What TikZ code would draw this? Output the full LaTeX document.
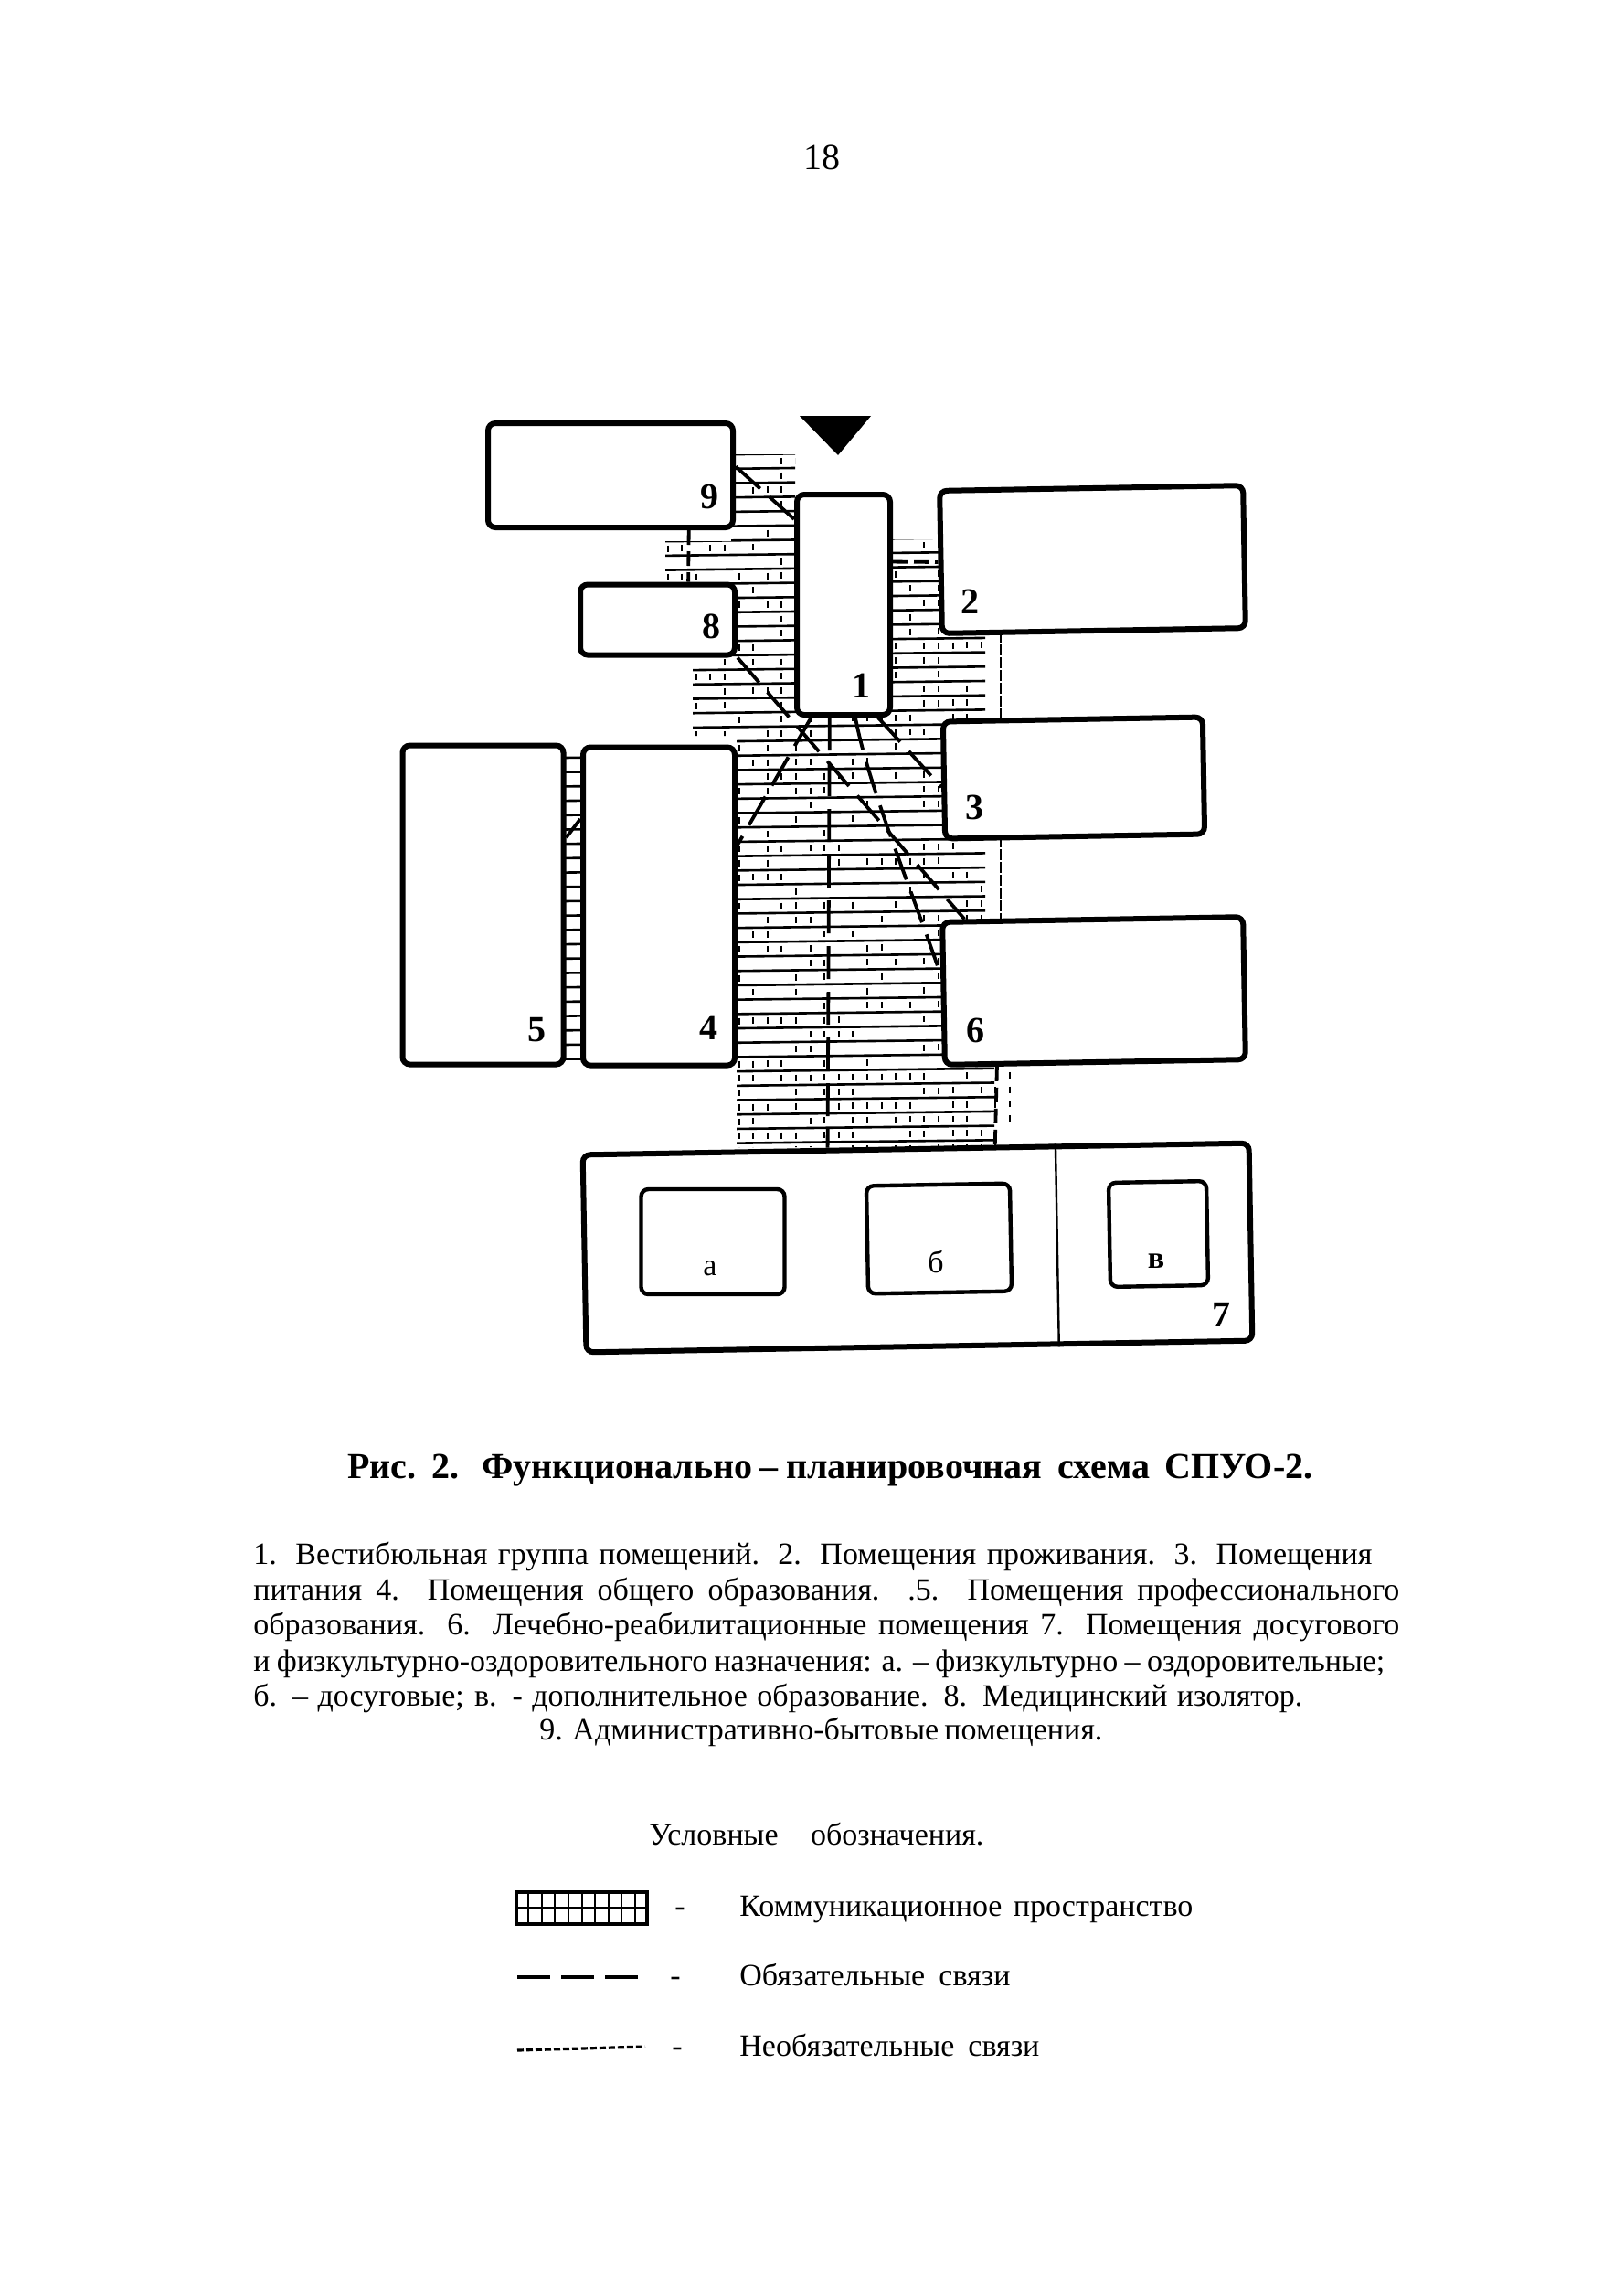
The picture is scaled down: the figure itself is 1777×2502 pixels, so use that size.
\documentclass[tikz,border=0pt]{standalone}
\usepackage{fontspec}
\setmainfont{Liberation Serif}
\usetikzlibrary{calc,backgrounds}
\newcommand{\fitline}[2]{\makebox[#1][s]{#2}}
\tikzset{
 room/.style={draw=black,fill=white,line width=3pt,rounded corners=4pt,inner sep=0pt,rectangle},
 subroom/.style={draw=black,fill=white,line width=2.2pt,rounded corners=4pt,inner sep=0pt,rectangle},
 numlabel/.style={font=\fontsize{20}{22}\selectfont\bfseries,inner sep=0pt},
 letlabel/.style={font=\fontsize{17}{20}\selectfont,inner sep=0pt},
 txt/.style={anchor=base west,inner sep=0pt,font=\fontsize{17}{20}\selectfont},
 captxt/.style={anchor=base west,inner sep=0pt,font=\fontsize{20}{24}\selectfont\bfseries},
 hrow/.style={line width=1.3pt,black},
 vtick/.style={line width=1pt,black},
 conn/.style={line width=1.9pt,black,dash pattern=on 18pt off 7pt},
 connshort/.style={line width=1.9pt,black,dash pattern=on 8pt off 3.5pt},
 legendthin/.style={line width=1.6pt,black,dash pattern=on 3.5pt off 1.5pt},
 legendthick/.style={line width=2.4pt,black,dash pattern=on 18pt off 6pt},
 edgeline/.style={line width=1pt,black,dash pattern=on 6pt off 1pt},
}
\begin{document}
\begin{tikzpicture}[x=0.5pt,y=-0.5pt]
\useasboundingbox (0,0) rectangle (1777,2502);
% rooms
\node[room,minimum width=134pt,minimum height=57pt] (n9) at (668,520) {};
\node[room,minimum width=51pt,minimum height=120.5pt] (n1) at (923,661.5) {};
\node[room,minimum width=166pt,minimum height=78pt,rotate=1] (n2) at (1195.5,612) {};
\node[room,minimum width=84.5pt,minimum height=38.5pt] (n8) at (719.5,678) {};
\node[room,minimum width=142pt,minimum height=64pt,rotate=1] (n3) at (1175,851) {};
\node[room,minimum width=83pt,minimum height=174pt] (n4) at (721,991.5) {};
\node[room,minimum width=88pt,minimum height=174.5pt] (n5) at (528.5,990) {};
\node[room,minimum width=164.5pt,minimum height=78pt,rotate=1] (n6) at (1197,1084) {};
\node[room,minimum width=364.5pt,minimum height=108pt,rotate=1] (n7) at (1004,1365) {};
\begin{pgfonlayer}{background}
% communication space
\begin{scope}
\clip (800,497) rectangle (870,600)
      (728,592) rectangle (880,640)
      (800,640) rectangle (880,720)
      (758,717) rectangle (880,805)
      (806,780) rectangle (1036,1255)
      (970,590) rectangle (1036,800)
      (970,691) rectangle (1078,790)
      (1030,912) rectangle (1078,1010)
      (806,1160) rectangle (1088,1255)
      (612,815) rectangle (642,1166);
\foreach \k in {0,...,49}{
  \pgfmathsetmacro\yy{497+15.7*\k}
  \draw[hrow] (600,{\yy+2.5}) -- (1120,{\yy-3.7});
}
\end{scope}
\begin{scope}
\clip (800,497) rectangle (870,600)
      (728,592) rectangle (880,640)
      (800,640) rectangle (880,720)
      (758,717) rectangle (880,805)
      (806,780) rectangle (1036,1255)
      (970,590) rectangle (1036,800)
      (970,691) rectangle (1078,790)
      (1030,912) rectangle (1078,1010)
      (806,1160) rectangle (1108,1255);
\pgfmathsetseed{11}
\foreach \k in {0,...,48}{
  \foreach \c in {-10,...,15}{
    \pgfmathrandominteger{\r}{0}{99}
    \pgfmathtruncatemacro\lim{\k>42 ? 70 : 38}
    \ifnum\r<\lim\relax
      \pgfmathsetmacro\xx{871+15.6*\c}
      \pgfmathsetmacro\yc{497+15.7*(\k+.5)-0.012*(\xx-810)}
      \draw[vtick] (\xx,\yc-3.5) -- (\xx,\yc+3.5);
    \fi
  }
}
\end{scope}
\draw[edgeline] (1095,691) -- (1095,786);
\draw[edgeline] (1095,915) -- (1095,1005);
% connectors
\draw[conn] (n9.4) -- (n1.120);
\draw[connshort] (n9.-35) -- (n8.51);
\draw[conn] (n8.south east) -- (n6.150);
\draw[conn] (n1.254) -- (n4.38);
\draw[line width=1.9pt] (n5.39) -- (n4.132);
\draw[conn] (n1.263) -- (n7.131);
\draw[conn] (n1.-73) -- (n3.183);
\draw[conn] (n1.-84) .. controls (950,860) and (1000,980) .. (n6.173);
\draw[connshort] (n1.41) -- (n2.west);
\draw[connshort] (n6.217) -- (n7.52);
\end{pgfonlayer}
\draw[line width=1.2pt] ($(n7.north west)!0.708!(n7.north east)$) -- ($(n7.south west)!0.708!(n7.south east)$);
\node[subroom,minimum width=78.5pt,minimum height=57.5pt] (na) at (780,1358.5) {};
\node[subroom,minimum width=78.5pt,minimum height=59pt,rotate=1] (nb) at (1027.5,1355) {};
\node[subroom,minimum width=53.5pt,minimum height=57pt,rotate=1] (nv) at (1267.5,1350) {};
% entrance
\fill (875,455) -- (953,455) -- (917,498) -- cycle;
% labels
\node[numlabel] (l9) at (776,543) {9};
\node[numlabel] (l8) at (778,685) {8};
\node[numlabel] (l1) at (942,750) {1};
\node[numlabel] (l2) at (1061,658) {2};
\node[numlabel] (l3) at (1066,883) {3};
\node[numlabel] (l5) at (587,1127) {5};
\node[numlabel] (l4) at (775,1124) {4};
\node[numlabel] (l6) at (1067,1127) {6};
\node[numlabel] (l7) at (1336,1438) {7};
\node[letlabel] (la) at (777,1388) {а};
\node[letlabel] (lb) at (1024,1380) {б};
\node[letlabel,font=\fontsize{17}{20}\selectfont\bfseries] (lv) at (1265,1380) {в};
% page number
\node[inner sep=0pt,font=\fontsize{20}{24}\selectfont] (page) at (899,172) {18};
% caption
\node[captxt] (cap) at (380,1617) {\fitline{528pt}{Рис.~~2.~~~Функционально – планировочная~~схема~~СПУО-2.}};
% list
\node[txt] (p1) at (277,1711) {\fitline{612pt}{1. Вестибюльная группа помещений. 2. Помещения проживания. 3. Помещения}};
\node[txt] (p2) at (277,1750) {\fitline{627pt}{питания 4. Помещения общего образования. .5. Помещения профессионального}};
\node[txt] (p3) at (277,1788) {\fitline{627pt}{образования. 6. Лечебно-реабилитационные помещения 7. Помещения досугового}};
\node[txt] (p4) at (277,1828) {\fitline{619pt}{и физкультурно-оздоровительного назначения: а. – физкультурно – оздоровительные;}};
\node[txt] (p5) at (277,1866) {\fitline{574pt}{б. – досуговые; в. - дополнительное образование. 8. Медицинский изолятор.}};
\node[txt] (p6) at (590,1903) {\fitline{308pt}{9. Административно-бытовые помещения.}};
% legend
\node[txt] (lt) at (710,2018) {\fitline{183pt}{Условные~обозначения.}};
\node[draw=black,line width=1.6pt,inner sep=0pt,minimum width=71.5pt,minimum height=17.5pt] (lh) at (636.5,2087.5) {};
\draw[line width=1.3pt] (lh.west) -- (lh.east);
\foreach \f in {1,...,9}{
  \draw[line width=1pt] ($(lh.north west)!\f/10!(lh.north east)$) -- ($(lh.south west)!\f/10!(lh.south east)$);
}
\node[txt] (d1) at (738,2096) {-};
\node[txt] (t1) at (809,2096) {\fitline{248pt}{Коммуникационное пространство}};
\coordinate (a2) at (566,2163);
\coordinate (b2) at (705,2163);
\draw[legendthick] (a2) -- (b2);
\node[txt] (d2) at (733,2172) {-};
\node[txt] (t2) at (809,2172) {\fitline{148pt}{Обязательные связи}};
\coordinate (a3) at (566,2243);
\coordinate (b3) at (706,2239);
\draw[legendthin] (a3) -- (b3);
\node[txt] (d3) at (735,2249) {-};
\node[txt] (t3) at (809,2249) {\fitline{164pt}{Необязательные связи}};
\end{tikzpicture}
\end{document}
